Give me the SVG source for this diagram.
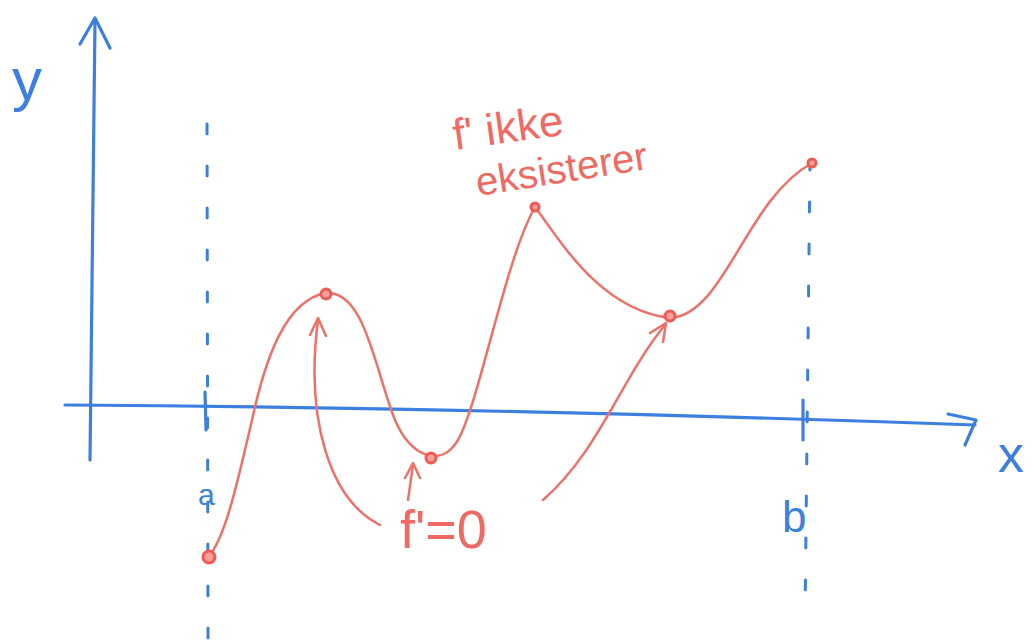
<svg xmlns="http://www.w3.org/2000/svg" width="1034" height="644" viewBox="0 0 1034 644">
<style>
.ax{fill:none;stroke:#3d7fe0;stroke-width:3.2;stroke-linecap:round;stroke-linejoin:round}
.dash{fill:none;stroke:#3d7fe0;stroke-width:3;stroke-linecap:round;stroke-dasharray:10 32}
.cv{fill:none;stroke:#f07068;stroke-width:2.5;stroke-linecap:round;stroke-linejoin:round}
.pt{fill:#f7a09a;stroke:#ef5a55;stroke-width:3}
.bt{fill:#3d7fe0;font-family:"Liberation Sans",sans-serif}
.rt{fill:#f06a64;font-family:"Liberation Sans",sans-serif}
</style>
<rect width="1034" height="644" fill="#ffffff"/>
<g id="axes">
<path class="ax" d="M95,20 Q92,240 90,460"/>
<path class="ax" d="M80,44 L95,18 L110,48"/>
<path class="ax" d="M65,405 Q500,408 975,425"/>
<path class="ax" d="M948,414 L976,420 L965,445"/>
<text class="bt" x="12" y="100" font-size="60">y</text>
<text class="bt" x="998" y="472" font-size="52">x</text>
</g>
<g id="bounds">
<path class="dash" d="M207,124 L208,640"/>
<path class="ax" d="M205,392 L206,430"/>
<text class="bt" x="198" y="505" font-size="30">a</text>
<path class="dash" d="M810,160 L805,620"/>
<path class="ax" d="M803,400 L803,440"/>
<text class="bt" x="782" y="532" font-size="44">b</text>
</g>
<g id="curve">
<path class="cv" d="M208,557 C225,540 238,480 252,420 C265,360 285,300 326,293 C365,290 375,370 395,420 C410,455 440,470 458,440 C480,400 505,260 535,207 C560,240 600,310 670,318 C725,315 745,200 812,163"/>
<circle class="pt" cx="209" cy="557" r="6"/>
<circle class="pt" cx="326" cy="294" r="5"/>
<circle class="pt" cx="431" cy="458" r="5"/>
<circle class="pt" cx="535" cy="207" r="4"/>
<circle class="pt" cx="670" cy="316" r="5"/>
<circle class="pt" cx="812" cy="163" r="4"/>
</g>
<g id="labels">
<text class="rt" x="455" y="150" font-size="44" transform="rotate(-8 455 150)">f' ikke</text>
<text class="rt" x="478" y="196" font-size="40" transform="rotate(-9 478 196)">eksisterer</text>
<text class="rt" x="400" y="548" font-size="54">f'=0</text>
</g>
<g id="connectors">
<path class="cv" d="M380,525 C330,500 305,420 318,320"/>
<path class="cv" d="M310,335 L318,318 L326,336"/>
<path class="cv" d="M408,500 L413,465"/>
<path class="cv" d="M405,478 L413,463 L420,478"/>
<path class="cv" d="M543,500 C600,450 620,380 665,325"/>
<path class="cv" d="M650,333 L666,323 L663,342"/>
</g>
</svg>
